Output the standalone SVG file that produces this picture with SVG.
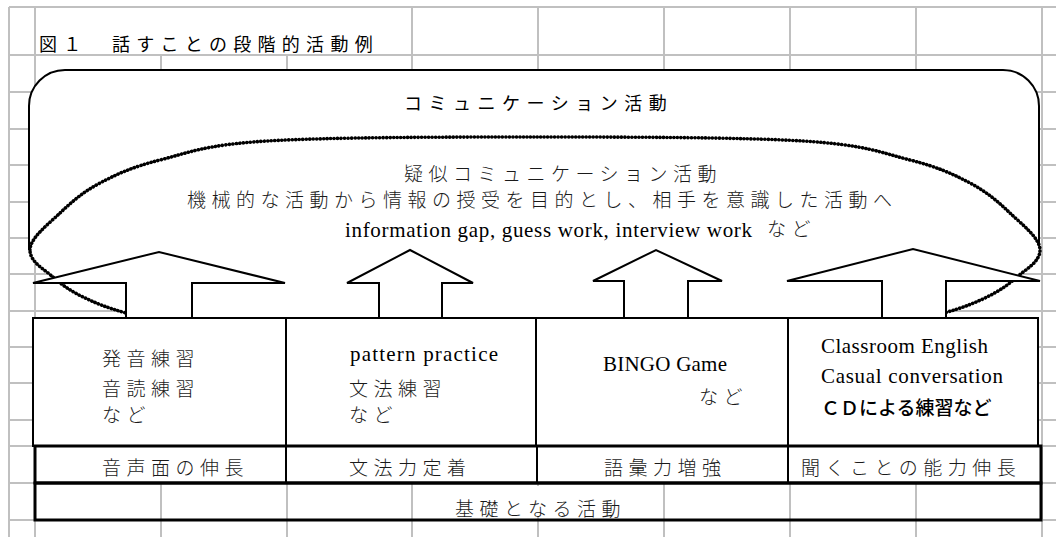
<svg xmlns="http://www.w3.org/2000/svg" width="1056" height="537" viewBox="0 0 1056 537">
<style>
.g{stroke:#c0c0c0;stroke-width:2;fill:none}
.s{fill:#fff;stroke:#000;stroke-width:2;stroke-linejoin:miter}
.t{fill:#fff;stroke:#000;stroke-width:3}
.d{fill:#fff;stroke:#000;stroke-width:3.6;stroke-dasharray:0.1 3.4;stroke-linecap:round}
.m{font-family:"Noto Sans CJK JP",sans-serif;font-size:19px;font-weight:300;fill:#1a1a1a;letter-spacing:5.5px}
.go{font-family:"Noto Sans CJK JP",sans-serif;fill:#000}
.r{font-family:"Liberation Serif","Times New Roman",serif;font-size:21px;fill:#000}
</style>
<rect width="1056" height="537" fill="#fff"/>
<g id="grid" class="g">
<path d="M9,7H1056M9,55H1056M9,92H1056M9,129H1056M9,165H1056M9,202H1056M9,238H1056M9,274H1056M9,311H1056M9,347H1056M9,383H1056M9,420H1056M9,446H1056M9,483H1056M9,520H1056"/>
<path d="M9,7V537M35,7V537M161,55V537M287,55V537M412,7V537M538,7V537M664,7V537M790,7V537M916,7V537M1042,7V537"/>
</g>
<g id="title">
<text class="go" x="39" y="51" font-size="18" letter-spacing="6.3">図１　話すことの段階的活動例</text>
</g>
<g id="communication">
<path class="s" d="M29,250V106A36,36 0 0 1 65,70H1003A36,36 0 0 1 1039,106V250"/>
<text class="go" x="404" y="110" font-size="18" letter-spacing="6.5">コミュニケーション活動</text>
</g>
<g id="pseudo-communication">
<path class="d" d="M30,250C30,238 48.3,224.2 60,213C71.7,201.8 83.3,191.8 100,183C116.7,174.2 132.2,167 160,160C187.8,153 204.5,144.8 267,141C329.5,137.2 445,137 535,137C625,137 740.5,137.2 803,141C865.5,144.8 882.2,153 910,160C937.8,167 953.3,174.2 970,183C986.7,191.8 998.3,201.8 1010,213C1021.7,224.2 1040,238 1040,250C1040,262 1025.8,269.2 1017,277C1008.2,284.8 999.2,291 987,297C974.8,303 963.5,307.5 944,313C924.5,318.5 900,320 880,320H190C170,320 145.5,318.5 126,313C106.5,307.5 95.2,303 83,297C70.8,291 61.8,284.8 53,277C44.2,269.2 30,262 30,250Z"/>
<text class="m" x="404" y="181" letter-spacing="5.2">疑似コミュニケーション活動</text>
<text class="m" x="187" y="207" letter-spacing="6">機械的な活動から情報の授受を目的とし、相手を意識した活動へ</text>
<text class="r" x="345" y="237" textLength="407" lengthAdjust="spacing">information gap, guess work, interview work</text>
<text class="m" x="767" y="236" letter-spacing="5">など</text>
</g>
<g id="connectors">
<polygon class="s" points="126,318 126,283 33,283 159,252 285,283 192,283 192,318"/>
<polygon class="s" points="379,318 379,283 347,283 410,250 473,283 442,283 442,318"/>
<polygon class="s" points="624,318 624,281 593,281 656,250 722,281 688,281 688,318"/>
<polygon class="s" points="882,318 882,281 787,281 913,249 1040,281 946,281 946,318"/>
</g>
<g id="box-pronunciation">
<rect class="s" x="33" y="318" width="253" height="128"/>
<text class="m" x="102" y="366" letter-spacing="5.3">発音練習</text>
<text class="m" x="102" y="396" letter-spacing="5.3">音読練習</text>
<text class="m" x="102" y="422" letter-spacing="5.3">など</text>
</g>
<g id="box-pattern">
<rect class="s" x="286" y="318" width="250" height="128"/>
<text class="r" x="350" y="361" textLength="148" lengthAdjust="spacing">pattern practice</text>
<text class="m" x="349" y="396" letter-spacing="5.7">文法練習</text>
<text class="m" x="349" y="422" letter-spacing="5.7">など</text>
</g>
<g id="box-bingo">
<rect class="s" x="536" y="318" width="252" height="128"/>
<text class="r" x="603" y="371" textLength="124" lengthAdjust="spacing">BINGO Game</text>
<text class="m" x="699" y="404" letter-spacing="5">など</text>
</g>
<g id="box-classroom">
<rect class="s" x="788" y="318" width="250" height="128"/>
<text class="r" x="821" y="353" textLength="167" lengthAdjust="spacing">Classroom English</text>
<text class="r" x="821" y="383" textLength="182" lengthAdjust="spacing">Casual conversation</text>
<text class="go" x="821" y="415" font-size="19" font-weight="500">ＣＤによる練習など</text>
</g>
<g id="labels">
<rect class="t" x="35" y="446" width="1006" height="37"/>
<path d="M286,446V483M537,446V483M788,446V483" stroke="#000" stroke-width="2"/>
<text class="m" x="102" y="475" letter-spacing="5.6">音声面の伸長</text>
<text class="m" x="349" y="475" letter-spacing="6">文法力定着</text>
<text class="m" x="604" y="475" letter-spacing="6">語彙力増強</text>
<text class="m" x="801" y="475" letter-spacing="5.4">聞くことの能力伸長</text>
</g>
<g id="base">
<rect x="35" y="483" width="1006" height="37" fill="none" stroke="#000" stroke-width="3"/>
<rect x="445" y="486" width="188" height="31" fill="#fff"/>
<text class="m" x="455" y="516" letter-spacing="5.8">基礎となる活動</text>
</g>
</svg>
